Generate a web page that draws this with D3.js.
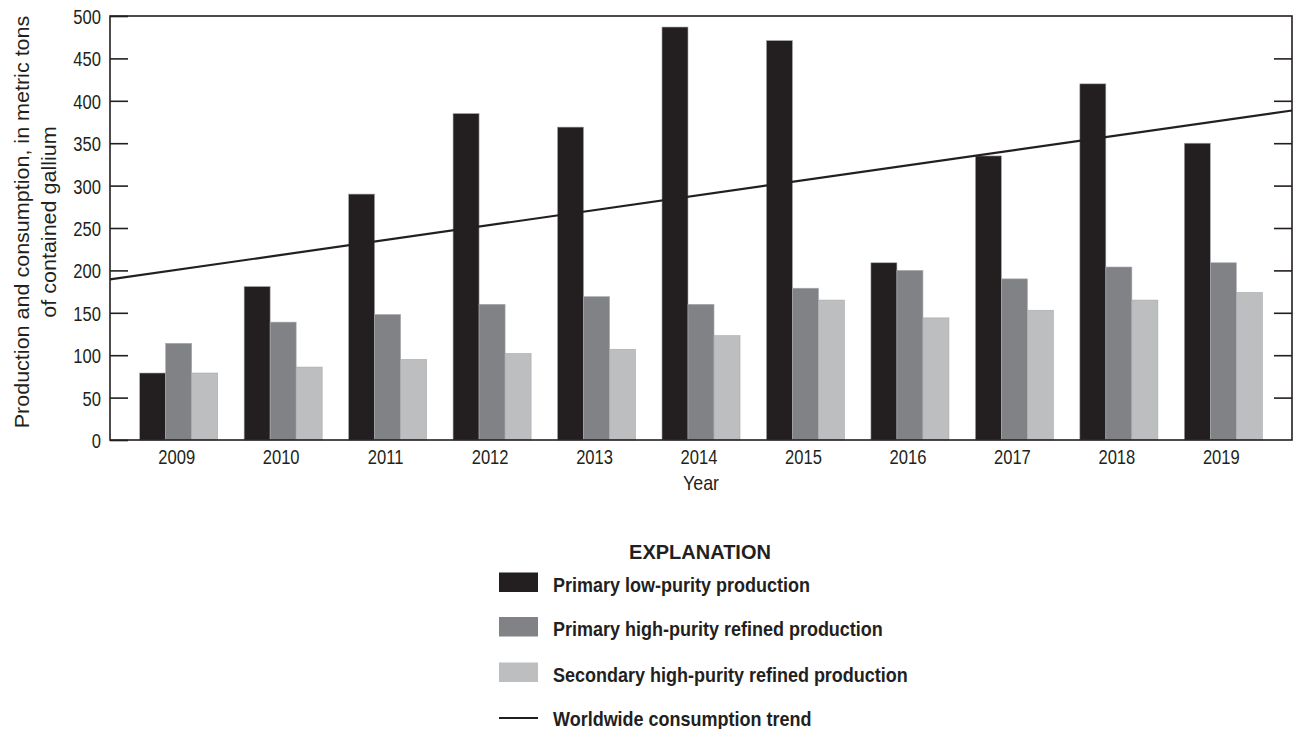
<!DOCTYPE html>
<html>
<head>
<meta charset="utf-8">
<script src="https://cdn.jsdelivr.net/npm/d3@7/dist/d3.min.js"></script>
<style>
  html, body { margin: 0; padding: 0; background: #fff; }
  svg { display: block; }
  text { font-family: "Liberation Sans", Arial, sans-serif; fill: #231f20; }
  /* narrow the glyphs horizontally to get a condensed face */
  .nar { transform-box: fill-box; }
</style>
</head>
<body>
<svg id="chart" width="1296" height="729"></svg>
<script>
// Gallium production by year, metric tons of contained gallium
const years = ["2009", "2010", "2011", "2012", "2013", "2014", "2015", "2016", "2017", "2018", "2019"];
const primaryLowPurity = [79, 181, 290, 385, 369, 487, 471, 209, 335, 420, 350];
const primaryHighPurity = [114, 139, 148, 160, 169, 160, 179, 200, 190, 204, 209];
const secondaryHighPurity = [79, 86, 95, 102, 107, 123, 165, 144, 153, 165, 174];
// Linear worldwide consumption trend, given at the first and last year
const trendYears = ["2009", "2019"];
const trendValues = [201, 377];
const yTicks = [0, 50, 100, 150, 200, 250, 300, 350, 400, 450, 500];

const seriesNames = [
  "Primary low-purity production",
  "Primary high-purity refined production",
  "Secondary high-purity refined production"
];
const trendName = "Worldwide consumption trend";
const seriesValues = [primaryLowPurity, primaryHighPurity, secondaryHighPurity];
const colors = ["#231f20", "#808285", "#bcbec0"];
const ink = "#231f20";

const svg = d3.select("#chart");
const m = { left: 110, right: 1292, top: 16, bottom: 440 };

// Condense a text selection horizontally about the given origin
function narrow(sel, sx, origin) {
  sel.classed("nar", true)
    .style("transform-origin", origin)
    .style("transform", `scaleX(${sx})`);
}

const x = d3.scaleBand().domain(years).range([m.left, m.right])
  .paddingInner(0.253).paddingOuter(0.284);
const sub = d3.scaleBand().domain(d3.range(seriesNames.length)).range([0, x.bandwidth()]);
const y = d3.scaleLinear().domain([0, 500]).range([m.bottom, m.top]);

// Bars
const groups = svg.append("g").selectAll("g")
  .data(years).join("g")
  .attr("transform", d => `translate(${x(d)},0)`);

groups.selectAll("rect")
  .data((d, i) => seriesValues.map((vals, s) => ({ s, v: vals[i] })))
  .join("rect")
  .attr("x", d => sub(d.s))
  .attr("width", sub.bandwidth())
  .attr("y", d => y(d.v))
  .attr("height", d => y(0) - y(d.v))
  .attr("fill", d => colors[d.s])
  .attr("stroke", "#a7a9ac")
  .attr("stroke-width", 0.6);

// Consumption trend, extended across the full plot width
const cx0 = x(trendYears[0]) + x.bandwidth() / 2;
const cx1 = x(trendYears[1]) + x.bandwidth() / 2;
const slope = (trendValues[1] - trendValues[0]) / (cx1 - cx0);
const trendAt = px => trendValues[0] + slope * (px - cx0);
const trendPts = [m.left, m.right].map(px => [px, y(trendAt(px))]);
svg.append("path")
  .attr("d", d3.line()(trendPts))
  .attr("fill", "none")
  .attr("stroke", ink)
  .attr("stroke-width", 2.2);

// Frame
svg.append("rect")
  .attr("x", m.left).attr("y", m.top)
  .attr("width", m.right - m.left).attr("height", m.bottom - m.top)
  .attr("fill", "none").attr("stroke", ink).attr("stroke-width", 1.6);

const tickFont = 19.5, tickSx = 0.85;

// Left axis with inward ticks
const yAxisL = svg.append("g")
  .attr("transform", `translate(${m.left},0)`)
  .call(d3.axisLeft(y).tickValues(yTicks).tickSize(-18).tickPadding(9));
yAxisL.select(".domain").remove();
yAxisL.selectAll("line").attr("stroke", ink).attr("stroke-width", 1.6);
yAxisL.attr("font-family", null).attr("font-size", null);
yAxisL.selectAll("text").attr("font-size", tickFont).attr("fill", ink).attr("dy", "0.38em")
  .call(narrow, tickSx, "right center");

// Right axis, ticks only
const yAxisR = svg.append("g")
  .attr("transform", `translate(${m.right},0)`)
  .call(d3.axisRight(y).tickValues(yTicks.slice(1, -1)).tickSize(-18).tickFormat(""));
yAxisR.select(".domain").remove();
yAxisR.selectAll("line").attr("stroke", ink).attr("stroke-width", 1.6);

// Bottom axis labels
const xAxis = svg.append("g")
  .attr("transform", `translate(0,${m.bottom})`)
  .call(d3.axisBottom(x).tickSize(0).tickPadding(10));
xAxis.select(".domain").remove();
xAxis.attr("font-family", null).attr("font-size", null);
xAxis.selectAll("text").attr("font-size", tickFont).attr("fill", ink).attr("dx", -2)
  .call(narrow, tickSx, "center");

// Axis titles
svg.append("text")
  .attr("x", (m.left + m.right) / 2).attr("y", 490)
  .attr("text-anchor", "middle").attr("font-size", 21)
  .text("Year")
  .call(narrow, tickSx, "center");

const yTitleG = svg.append("g")
  .attr("transform", `translate(28.5,222) rotate(-90)`);
const titleLines = ["Production and consumption, in metric tons", "of contained gallium"];
titleLines.forEach((t, i) => {
  yTitleG.append("text")
    .attr("x", 0).attr("y", i * 28)
    .attr("text-anchor", "middle").attr("font-size", 21)
    .text(t);
});
// fit the first title line to its length along the axis
{
  const first = yTitleG.select("text").node();
  const sx = 413 / first.getComputedTextLength();
  yTitleG.selectAll("text").call(narrow, sx, "center");
}

// Legend
const legend = svg.append("g");
legend.append("text")
  .attr("x", 700).attr("y", 559.5)
  .attr("text-anchor", "middle").attr("font-size", 21).attr("font-weight", "bold")
  .text("EXPLANATION")
  .call(function (sel) {
    const sx = 142 / sel.node().getComputedTextLength();
    narrow(sel, sx, "center");
  });

const rowY = [592, 636.5, 682, 726];   // text baselines
const labels = seriesNames.concat([trendName]);
const legendText = legend.selectAll("text.item")
  .data(labels).join("text")
  .attr("class", "item")
  .attr("x", 553).attr("y", (d, i) => rowY[i])
  .attr("font-size", 20).attr("font-weight", "bold")
  .text(d => d);
{
  const sx = 355 / legendText.nodes()[2].getComputedTextLength();
  legendText.call(narrow, sx, "left center");
}

seriesNames.forEach((name, i) => {
  legend.append("rect")
    .attr("x", 499).attr("y", rowY[i] - 19.5)
    .attr("width", 39).attr("height", 19.5)
    .attr("fill", colors[i]);
});
legend.append("line")
  .attr("x1", 499).attr("x2", 538)
  .attr("y1", rowY[3] - 8).attr("y2", rowY[3] - 8)
  .attr("stroke", ink).attr("stroke-width", 2.2);
</script>
</body>
</html>
